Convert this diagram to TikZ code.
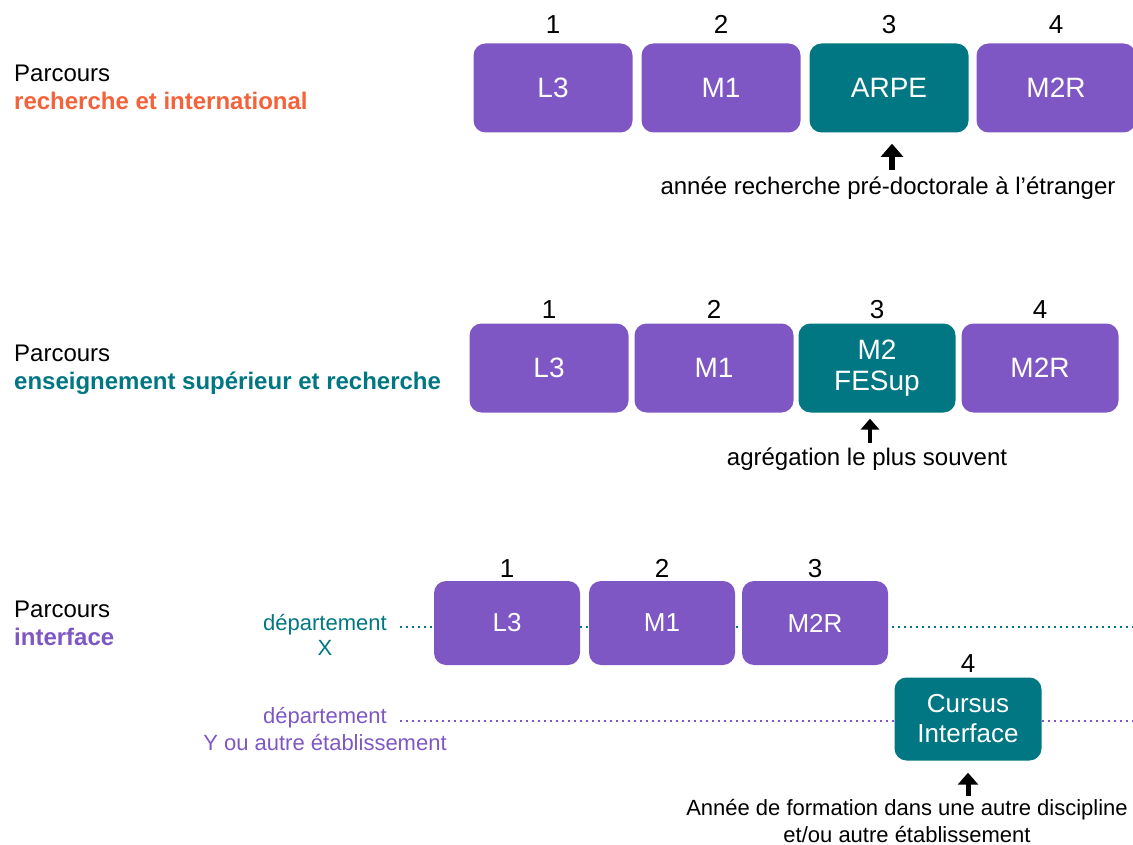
\documentclass[tikz,border=0pt]{standalone}
\usepackage{fontspec}
\setmainfont{Liberation Sans}
\usetikzlibrary{arrows.meta}

\definecolor{mauve}{RGB}{126,87,196}
\definecolor{sarcelle}{RGB}{0,119,130}
\definecolor{corail}{RGB}{244,98,58}

\tikzset{
  annee/.style={rectangle, rounded corners=12pt, fill=mauve, text=white,
    font=\fontsize{28}{31}\selectfont, minimum width=159pt, minimum height=89pt,
    inner sep=0pt, align=center},
  autre/.style={annee, fill=sarcelle},
  petite/.style={minimum width=146pt, minimum height=84pt, font=\fontsize{26}{30}\selectfont},
  num/.style={anchor=base, font=\fontsize{26}{30}\selectfont},
  parcours/.style={anchor=north west, inner sep=0pt, align=left,
    font=\fontsize{24}{28}\selectfont},
  legende/.style={align=center, font=\fontsize{24}{28}\selectfont},
  fleche/.style={line width=#1, -{Triangle[width=0pt 4,length=0pt 2.4]}},
  fleche/.default=5.5pt,
  pointille/.style={line width=1.6pt, dash pattern=on 1.6pt off 4.4pt}
}

\begin{document}
\begin{tikzpicture}[x=1pt,y=-1pt]
\useasboundingbox (0,0) rectangle (1133,845);

% recherche et international
\node[parcours] (p1) at (14,65) {Parcours\\{\color{corail}\bfseries recherche et international}};
\node[annee] (l3a) at (553,88) {L3};
\node[annee] (m1a) at (721,88) {M1};
\node[autre] (arpe) at (889,88) {ARPE};
\node[annee] (m2ra) at (1056,88) {M2R};
\node[num] (n1a) at (553,34) {1};
\node[num] (n2a) at (721,34) {2};
\node[num] (n3a) at (889,34) {3};
\node[num] (n4a) at (1056,34) {4};
\node[legende] (cap1) at (888,188) {année recherche pré-doctorale à l’étranger};
\coordinate (f1) at (892,170);
\draw[fleche, shorten >=11pt] (f1) -- (f1 |- arpe.south);

% enseignement superieur et recherche
\node[parcours] (p2) at (14,345) {Parcours\\{\color{sarcelle}\bfseries enseignement supérieur et recherche}};
\node[annee] (l3b) at (549,368) {L3};
\node[annee] (m1b) at (714,368) {M1};
\node[autre, minimum width=157pt] (fesup) at (877,368) {M2\\FESup};
\node[annee, minimum width=157pt] (m2rb) at (1040,368) {M2R};
\node[num] (n1b) at (549,319) {1};
\node[num] (n2b) at (714,319) {2};
\node[num] (n3b) at (877,319) {3};
\node[num] (n4b) at (1040,319) {4};
\node[legende] (cap2) at (867,459) {agrégation le plus souvent};
\coordinate (f2) at (870,443);
\draw[fleche=4.5pt, shorten >=6pt] (f2) -- (f2 |- fesup.south);

% interface
\node[parcours] (p3) at (14,601) {Parcours\\{\color{mauve}\bfseries interface}};
\node[legende, text=sarcelle, font=\fontsize{22}{25}\selectfont] (depx) at (325,635) {département\\X};
\node[legende, text=mauve, font=\fontsize{22}{27}\selectfont] (depy) at (325,729) {département\\Y ou autre établissement};
\coordinate (dx) at (400,627);
\coordinate (dxfin) at (1133,627);
\coordinate (dy) at (400,721);
\coordinate (dyfin) at (1133,721);
\draw[pointille, sarcelle] (dx) -- (dxfin);
\draw[pointille, mauve] (dy) -- (dyfin);
\node[annee, petite] (l3c) at (507,623) {L3};
\node[annee, petite] (m1c) at (662,623) {M1};
\node[annee, petite] (m2rc) at (815,623) {M2R};
\node[autre, petite, minimum width=147pt, minimum height=83pt] (cursus) at (968,719) {Cursus\\Interface};
\node[num] (n1c) at (507,577) {1};
\node[num] (n2c) at (662,577) {2};
\node[num] (n3c) at (815,577) {3};
\node[num] (n4c) at (968,672) {4};
\node[legende, font=\fontsize{22}{27}\selectfont] (cap3) at (907,821) {Année de formation dans une autre discipline\\et/ou autre établissement};
\coordinate (f3) at (968,796);
\draw[fleche=5pt, shorten >=12pt] (f3) -- (cursus.south);
\end{tikzpicture}
\end{document}
